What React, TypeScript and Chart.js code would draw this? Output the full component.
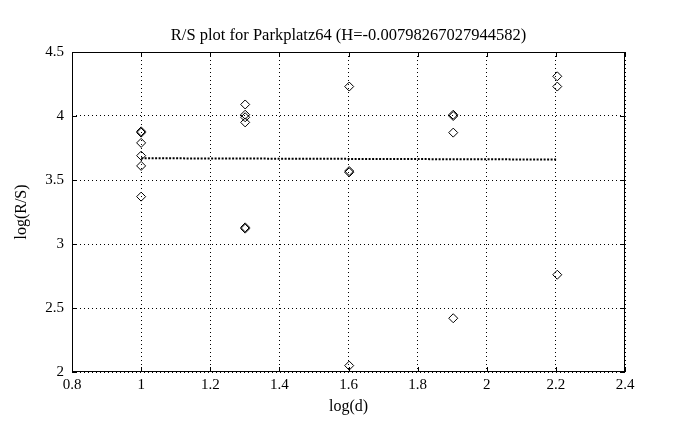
import React, { useEffect, useRef } from "react";
import { Chart, registerables } from "chart.js";

Chart.register(...registerables);

const titleText = "R/S plot for Parkplatz64 (H=-0.00798267027944582)";
const xLabel = "log(d)";
const yLabel = "log(R/S)";

const pointX = [
  1, 1, 1, 1, 1, 1,
  1.301, 1.301, 1.301, 1.301, 1.301, 1.301,
  1.602, 1.602, 1.602, 1.602,
  1.903, 1.903, 1.903, 1.903,
  2.204, 2.204, 2.204,
];
const pointY = [
  3.88, 3.87, 3.79, 3.69, 3.61, 3.37,
  4.09, 4.01, 3.99, 3.95, 3.13, 3.12,
  4.23, 3.57, 3.56, 2.05,
  4.01, 4.0, 3.87, 2.42,
  4.31, 4.23, 2.76,
];
const fitX = [1, 2.204];
const fitY = [3.67, 3.66];

const xMin = 0.8, xMax = 2.4, xStep = 0.2;
const yMin = 2, yMax = 4.5, yStep = 0.5;

const FONT = "'Liberation Serif', 'DejaVu Serif', serif";

const boxPlugin = {
  id: "boxTicks",
  afterDraw(chart: any) {
    const { ctx, chartArea } = chart;
    const { left, right, top, bottom } = chartArea;
    ctx.save();
    ctx.strokeStyle = "#000";
    ctx.lineWidth = 1;
    ctx.setLineDash([]);
    ctx.strokeRect(left + 0.5, top + 0.5, right - left - 1, bottom - top - 1);
    const xs = chart.scales.x;
    const ys = chart.scales.y;
    const len = 5;
    ctx.beginPath();
    xs.ticks.forEach((t: any) => {
      const px = Math.round(xs.getPixelForValue(t.value)) + 0.5;
      ctx.moveTo(px, bottom);
      ctx.lineTo(px, bottom - len);
      ctx.moveTo(px, top);
      ctx.lineTo(px, top + len);
    });
    ys.ticks.forEach((t: any) => {
      const py = Math.round(ys.getPixelForValue(t.value)) + 0.5;
      ctx.moveTo(left, py);
      ctx.lineTo(left + len, py);
      ctx.moveTo(right, py);
      ctx.lineTo(right - len, py);
    });
    ctx.stroke();
    ctx.restore();
  },
};

export default function App() {
  const ref = useRef<HTMLCanvasElement | null>(null);
  useEffect(() => {
    if (!ref.current) return;
    const chart = new Chart(ref.current, {
      type: "scatter",
      data: {
        datasets: [
          {
            label: "fit",
            type: "line",
            data: fitX.map((x, i) => ({ x, y: fitY[i] })),
            borderColor: "#000",
            borderWidth: 2,
            borderDash: [2, 1.5],
            pointRadius: 0,
            fill: false,
          },
          {
            label: "R/S",
            data: pointX.map((x, i) => ({ x, y: pointY[i] })),
            pointStyle: "rectRot",
            pointRadius: 4.5,
            borderColor: "#000",
            borderWidth: 1,
            backgroundColor: "rgba(0,0,0,0)",
          },
        ],
      },
      options: {
        animation: false,
        responsive: false,
        devicePixelRatio: 1,
        layout: { padding: { left: 11, right: 0, top: 0, bottom: 0 } },
        plugins: {
          legend: { display: false },
          tooltip: { enabled: false },
          title: {
            display: true,
            text: titleText,
            color: "#000",
            font: { family: FONT, size: 16.5, weight: "normal" },
            padding: { top: 26, bottom: 6.2 },
          },
        },
        scales: {
          x: {
            type: "linear",
            min: xMin,
            max: xMax,
            ticks: {
              stepSize: xStep,
              color: "#000",
              font: { family: FONT, size: 15 },
              padding: 4,
              callback: (v: any) => String(Math.round(Number(v) * 10) / 10),
            },
            grid: {
              color: "#000",
              lineWidth: 1,
              drawTicks: false,
            },
            border: { display: false, dash: [1, 3] },
            title: {
              display: true,
              text: xLabel,
              color: "#000",
              font: { family: FONT, size: 16 },
              padding: { top: 0, bottom: 13.5 },
            },
            afterFit: (s: any) => {
              s.height = 58;
            },
          } as any,
          y: {
            type: "linear",
            min: yMin,
            max: yMax,
            ticks: {
              stepSize: yStep,
              color: "#000",
              font: { family: FONT, size: 15 },
              padding: 8,
              callback: (v: any) => String(Math.round(Number(v) * 10) / 10),
            },
            grid: {
              color: "#000",
              lineWidth: 1,
              drawTicks: false,
            },
            border: { display: false, dash: [1, 3] },
            title: {
              display: true,
              text: yLabel,
              color: "#000",
              font: { family: FONT, size: 16 },
              padding: { top: 1, bottom: 0 },
            },
            afterFit: (s: any) => {
              s.width = 61;
            },
          } as any,
          y2: {
            type: "linear",
            position: "right",
            min: 0,
            max: 1,
            display: true,
            grid: { display: false, drawTicks: false },
            ticks: { display: false },
            border: { display: false },
            afterFit: (s: any) => {
              s.width = 61;
            },
          } as any,
        },
      },
      plugins: [boxPlugin],
    } as any);
    return () => chart.destroy();
  }, []);
  return (
    <div style={{ position: "fixed", left: 0, top: 0, width: 686, height: 430, background: "#fff" }}>
      <canvas ref={ref} width={686} height={430} style={{ width: 686, height: 430 }} />
    </div>
  );
}
